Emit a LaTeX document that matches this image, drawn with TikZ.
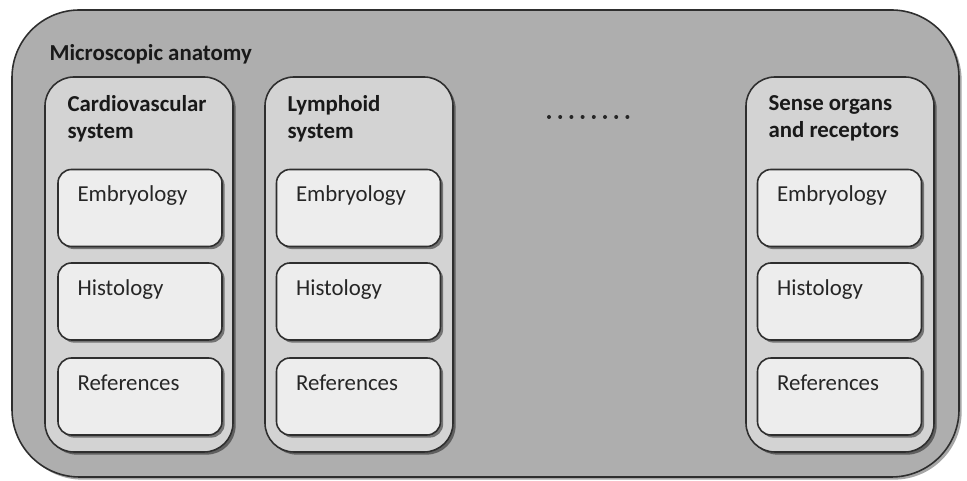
\documentclass[tikz,border=0pt]{standalone}
\usepackage{fontspec}
\setmainfont{Carlito}
\usetikzlibrary{shadows,positioning}

\definecolor{outerfill}{HTML}{AEAEAE}
\definecolor{colfill}{HTML}{D3D3D3}
\definecolor{boxfill}{HTML}{EDEDED}
\definecolor{edgegray}{HTML}{2E2E2E}

\tikzset{
  outerbox/.style={draw=edgegray, line width=0.9pt, fill=outerfill, rounded corners=1.35cm,
    minimum width=18.94cm, minimum height=9.34cm, inner sep=0pt,
    drop shadow={shadow xshift=1.5pt, shadow yshift=-1.5pt, fill=black, opacity=0.35}},
  colbox/.style={draw=edgegray, line width=0.9pt, fill=colfill, rounded corners=0.58cm,
    minimum width=3.76cm, minimum height=7.5cm, inner sep=0pt,
    drop shadow={shadow xshift=1.5pt, shadow yshift=-1.5pt, fill=black, opacity=0.45}},
  partbox/.style={draw=edgegray, line width=0.9pt, fill=boxfill, rounded corners=0.27cm,
    minimum width=3.28cm, minimum height=1.54cm, inner sep=0pt,
    drop shadow={shadow xshift=1.5pt, shadow yshift=-1.5pt, fill=black, opacity=0.45}},
  boxtext/.style={anchor=north west, inner sep=0pt, text=black!85,
    font=\fontsize{13}{15.3}\selectfont, align=left},
  headtext/.style={boxtext, text=black!90, font=\fontsize{13}{15.3}\selectfont\bfseries}
}

\begin{document}
\begin{tikzpicture}
\useasboundingbox (0,0) rectangle (19.34,9.62);
% outer frame
\node[outerbox] (anat) at (9.71,4.75) {};
\node[headtext] (anatlbl) at ([xshift=0.76cm, yshift=-0.7cm]anat.north west) {Microscopic anatomy};

% columns
\node[colbox] (c1) at (2.78,4.33) {};
\node[colbox] (c2) at (7.18,4.33) {};
\node[colbox] (c3) at (16.80,4.33) {};
\node[headtext] (c1lbl) at ([xshift=0.46cm, yshift=-0.38cm]c1.north west) {Cardiovascular\\system};
\node[headtext] (c2lbl) at ([xshift=0.46cm, yshift=-0.38cm]c2.north west) {Lymphoid\\system};
\node[headtext] (c3lbl) at ([xshift=0.46cm, yshift=-0.38cm]c3.north west) {Sense organs\\and receptors};

% parts of column 1
\node[partbox] (e1) at (2.80,5.46) {};
\node[partbox] (h1) at (2.80,3.59) {};
\node[partbox] (r1) at (2.80,1.69) {};
% parts of column 2
\node[partbox] (e2) at (7.17,5.46) {};
\node[partbox] (h2) at (7.17,3.59) {};
\node[partbox] (r2) at (7.17,1.69) {};
% parts of column 3
\node[partbox] (e3) at (16.79,5.46) {};
\node[partbox] (h3) at (16.79,3.59) {};
\node[partbox] (r3) at (16.79,1.69) {};

\foreach \b/\t in {e1/Embryology, h1/Histology, r1/References,
                   e2/Embryology, h2/Histology, r2/References,
                   e3/Embryology, h3/Histology, r3/References}
  \node[boxtext] (\b lbl) at ([xshift=0.4cm, yshift=-0.34cm]\b.north west) {\t};

% dots for the columns left out
\foreach \i in {0,...,7}
  \fill[black!85] (10.98+0.224*\i,7.28) circle (0.04);
\end{tikzpicture}
\end{document}
